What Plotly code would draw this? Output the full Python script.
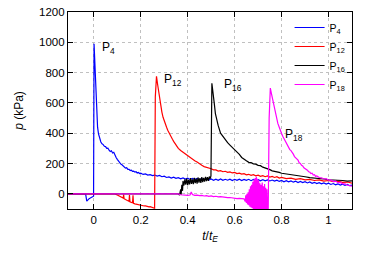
import plotly.graph_objects as go

# ---- data ----
t4 = [-0.11, -0.035, -0.03, -0.025, -0.02, -0.015, -0.01, -0.005, -0.001, 0.001, 0.004, 0.007, 0.010, 0.013, 0.016,
      0.02, 0.025, 0.03, 0.035, 0.04, 0.045, 0.05, 0.055, 0.06, 0.065, 0.07, 0.075, 0.08, 0.085, 0.09, 0.095,
      0.1, 0.105, 0.11, 0.115, 0.12, 0.125, 0.13, 0.135, 0.14, 0.145, 0.15, 0.155, 0.16, 0.165, 0.17, 0.175,
      0.18, 0.185, 0.19, 0.195, 0.2, 0.21, 0.22, 0.23, 0.24, 0.25, 0.26, 0.27, 0.28, 0.29, 0.30, 0.31, 0.32,
      0.33, 0.34, 0.35, 0.36, 0.37, 0.38, 0.39, 0.40, 0.41, 0.42, 0.43, 0.44, 0.45, 0.46, 0.47, 0.48, 0.49,
      0.50, 0.51, 0.52, 0.53, 0.54, 0.55, 0.56, 0.57, 0.58, 0.59, 0.60, 0.61, 0.62, 0.63, 0.64, 0.65, 0.66,
      0.67, 0.68, 0.69, 0.70, 0.71, 0.72, 0.73, 0.74, 0.75, 0.76, 0.77, 0.78, 0.79, 0.80, 0.81, 0.82, 0.83,
      0.84, 0.85, 0.86, 0.87, 0.88, 0.89, 0.90, 0.91, 0.92, 0.93, 0.94, 0.95, 0.96, 0.97, 0.98, 0.99, 1.00,
      1.01, 1.02, 1.03, 1.04, 1.05, 1.06, 1.07, 1.08, 1.09, 1.10]
p4 = [0, 0, -48, -38, -32, -28, -24, -20, -16, 990, 860, 700, 570, 490, 440,
      395, 360, 342, 330, 325, 314, 312, 300, 302, 288, 280, 284, 270, 274, 250, 240,
      228, 216, 208, 196, 192, 182, 180, 170, 172, 162, 162, 154, 156, 148, 150, 143,
      146, 138, 141, 134, 136, 128, 131, 124, 127, 120, 124, 117, 121, 113, 117, 108, 112,
      104, 110, 102, 107, 99, 105, 97, 103, 95, 102, 94, 101, 93, 100, 92, 99, 91,
      98, 90, 97, 90, 98, 89, 96, 90, 97, 88, 96, 89, 97, 88, 95, 89, 96,
      87, 95, 88, 94, 86, 93, 86, 92, 85, 91, 84, 90, 82, 88, 80, 87, 79,
      85, 77, 83, 75, 82, 74, 80, 72, 78, 70, 76, 68, 74, 66, 72, 64, 70,
      62, 68, 60, 66, 58, 64, 56, 62, 54, 58]

t12 = [-0.11, 0.09, 0.10, 0.11, 0.12, 0.125, 0.127, 0.129, 0.135, 0.14, 0.145, 0.15, 0.152, 0.154, 0.16, 0.165,
       0.167, 0.169, 0.175, 0.18, 0.185, 0.19, 0.195, 0.2, 0.205, 0.21, 0.215, 0.22, 0.225, 0.23, 0.235, 0.24,
       0.245, 0.25, 0.255, 0.259, 0.262, 0.267, 0.272, 0.277, 0.283, 0.29, 0.295, 0.3, 0.305, 0.31, 0.315,
       0.32, 0.325, 0.33, 0.335, 0.34, 0.345, 0.35, 0.355, 0.36, 0.37, 0.38, 0.39, 0.40, 0.41, 0.42, 0.43,
       0.44, 0.45, 0.46, 0.47, 0.48, 0.49, 0.50, 0.51, 0.52, 0.53, 0.54, 0.55, 0.56, 0.57, 0.58, 0.59, 0.60,
       0.61, 0.62, 0.63, 0.64, 0.65, 0.66, 0.67, 0.68, 0.69, 0.70, 0.71, 0.72, 0.73, 0.74, 0.75, 0.76, 0.77,
       0.78, 0.79, 0.80, 0.82, 0.84, 0.86, 0.88, 0.90, 0.92, 0.94, 0.96, 0.98, 1.00, 1.02, 1.04, 1.06, 1.08, 1.10]
p12 = [0, 0, -8, -15, -22, -28, -5, -32, -38, -42, -46, -50, -8, -52, -56, -58,
       -10, -62, -66, -68, -72, -70, -75, -74, -78, -77, -80, -79, -83, -82, -86, -85,
       -89, -88, -92, -95, 640, 775, 720, 660, 600, 540, 505, 478, 458, 440, 420,
       402, 388, 372, 360, 346, 335, 320, 312, 300, 286, 274, 260, 250, 238, 228, 218,
       210, 196, 188, 180, 176, 168, 166, 158, 158, 150, 153, 146, 149, 142, 145, 138, 141,
       134, 137, 130, 133, 126, 129, 122, 126, 119, 123, 116, 120, 113, 118, 111, 115, 108,
       113, 104, 109, 101, 104, 96, 100, 92, 96, 88, 92, 84, 88, 80, 84, 76, 78, 70]

t16 = [-0.11, 0.36, 0.365, 0.37, 0.372, 0.375, 0.378, 0.38, 0.384, 0.388, 0.392, 0.396, 0.40, 0.404, 0.408,
       0.412, 0.416, 0.42, 0.424, 0.428, 0.432, 0.436, 0.44, 0.444, 0.448, 0.452, 0.456, 0.46, 0.464, 0.468,
       0.472, 0.476, 0.48, 0.484, 0.488, 0.492, 0.496, 0.499, 0.503, 0.508, 0.513, 0.518, 0.523, 0.53, 0.54,
       0.55, 0.56, 0.57, 0.58, 0.59, 0.60, 0.61, 0.62, 0.63, 0.64, 0.65, 0.66, 0.67, 0.68, 0.69, 0.70, 0.71,
       0.72, 0.73, 0.74, 0.75, 0.76, 0.77, 0.78, 0.79, 0.80, 0.82, 0.84, 0.86, 0.88, 0.90, 0.92, 0.94, 0.96,
       0.98, 1.00, 1.02, 1.04, 1.06, 1.08, 1.10]
p16 = [0, 0, -8, 30, -5, 60, 20, 85, 55, 95, 60, 100, 58, 92, 62,
       104, 66, 96, 64, 106, 70, 100, 68, 108, 74, 104, 72, 110, 78, 106,
       80, 112, 84, 110, 86, 114, 100, 118, 730, 680, 600, 530, 488, 450, 400,
       378, 356, 338, 322, 308, 292, 275, 260, 240, 226, 218, 208, 206, 198, 196, 188, 186,
       176, 172, 164, 160, 152, 150, 144, 142, 136, 132, 126, 122, 116, 113, 107, 105, 100,
       98, 93, 92, 88, 88, 84, 86]

t18 = [-0.11, 0.36, 0.37, 0.38, 0.39, 0.40, 0.41, 0.415, 0.42, 0.43, 0.44, 0.45, 0.46, 0.47, 0.48, 0.49,
       0.50, 0.51, 0.52, 0.53, 0.54, 0.55, 0.56, 0.57, 0.58, 0.59, 0.60, 0.61, 0.62, 0.63, 0.64,
       0.645, 0.6475, 0.65, 0.6525, 0.655, 0.6575, 0.66, 0.6625, 0.665, 0.6675, 0.67, 0.6725, 0.675,
       0.6775, 0.68, 0.6825, 0.685, 0.6875, 0.69, 0.6925, 0.695, 0.6975, 0.70, 0.7025, 0.705, 0.7075,
       0.71, 0.7125, 0.715, 0.7175, 0.72, 0.7225, 0.725, 0.7275, 0.73, 0.7325, 0.735, 0.7375, 0.74,
       0.743, 0.747, 0.752, 0.757, 0.762, 0.767, 0.772, 0.778, 0.784, 0.79, 0.795, 0.80, 0.805, 0.81,
       0.815, 0.82, 0.825, 0.83, 0.835, 0.84, 0.845, 0.85, 0.855, 0.86, 0.865, 0.87, 0.875, 0.88, 0.885,
       0.89, 0.895, 0.90, 0.905, 0.91, 0.915, 0.92, 0.925, 0.93, 0.935, 0.94, 0.945, 0.95, 0.96, 0.97,
       0.98, 0.99, 1.00, 1.01, 1.02, 1.03, 1.04, 1.05, 1.06, 1.07, 1.08, 1.09, 1.10]
p18 = [0, 0, -6, -8, -6, -10, -8, 12, -4, -10, -8, -12, -10, -14, -12, -16,
       -14, -18, -16, -20, -18, -22, -21, -25, -24, -28, -27, -31, -30, -34, -33,
       -50, -10, -60, 0, -70, 10, -75, 30, -85, 50, -90, 60, -95,
       80, -100, 95, -110, 105, -110, 112, -110, 100, -110, 90, -105, 70,
       -110, 60, -100, 75, -110, 50, -105, 65, -110, 40, -110, 30, -110,
       -110, 500, 698, 660, 620, 580, 540, 500, 465, 440, 412, 398, 380, 364,
       350, 332, 320, 310, 292, 285, 268, 262, 246, 240, 228, 222, 205, 200, 188,
       184, 172, 168, 160, 156, 146, 144, 134, 136, 124, 126, 115, 118, 108, 106,
       98, 100, 90, 92, 82, 84, 74, 76, 66, 66, 58, 56, 50]

series_names = ["P<sub>4</sub>", "P<sub>12</sub>", "P<sub>16</sub>", "P<sub>18</sub>"]
series_colors = ["#0000ff", "#ff0000", "#000000", "#ff00ff"]

# label positions (data coords) for in-plot annotations
label_t = [0.025, 0.29, 0.545, 0.805]
label_p = [960, 750, 720, 390]

x_ticks = [0, 0.2, 0.4, 0.6, 0.8, 1.0]
x_ticktext = ["0", "0.2", "0.4", "0.6", "0.8", "1"]
y_ticks = [0, 200, 400, 600, 800, 1000, 1200]

FONT = "Liberation Sans, Arial, sans-serif"

fig = go.Figure()
for t, p, name, col in zip([t4, t12, t16, t18], [p4, p12, p16, p18], series_names, series_colors):
    fig.add_trace(go.Scatter(x=t, y=p, mode="lines", name=name,
                             line=dict(color=col, width=1.2)))

for lt, lp, name in zip(label_t, label_p, series_names):
    fig.add_annotation(x=lt, y=lp, text=name, showarrow=False, xanchor="left", yanchor="middle",
                       font=dict(size=12, color="black", family=FONT))

axis_common = dict(showline=True, linecolor="black", linewidth=1.2, mirror="ticks",
                   ticks="inside", ticklen=5, tickcolor="black", automargin=False,
                   showgrid=True, gridcolor="#c0c0c0", gridwidth=0.8, griddash="dot",
                   zeroline=False, tickfont=dict(size=11.5, family=FONT, color="black"))

fig.update_layout(
    width=374, height=262,
    margin=dict(l=68, r=22, t=12, b=53),
    paper_bgcolor="white", plot_bgcolor="white",
    font=dict(family=FONT, color="black"),
    showlegend=True,
    legend=dict(x=0.995, y=0.995, xanchor="right", yanchor="top", bgcolor="rgba(0,0,0,0)",
                font=dict(size=10.5, family=FONT), tracegroupgap=0, itemwidth=30),
    xaxis=dict(range=[-0.11, 1.1], tickvals=x_ticks, ticktext=x_ticktext,
               title=dict(text="<i>t</i>/<i>t</i><sub><i>E</i></sub>", standoff=6,
                          font=dict(size=12, family=FONT)),
               **axis_common),
    yaxis=dict(range=[-100, 1200], tickvals=y_ticks,
               title=dict(text="<i>p</i> (kPa)", standoff=12, font=dict(size=12, family=FONT)),
               **axis_common),
)

fig.write_html("out.html", config={"displayModeBar": False},
               post_script="document.body.style.margin='0';document.body.style.overflow='hidden';")
